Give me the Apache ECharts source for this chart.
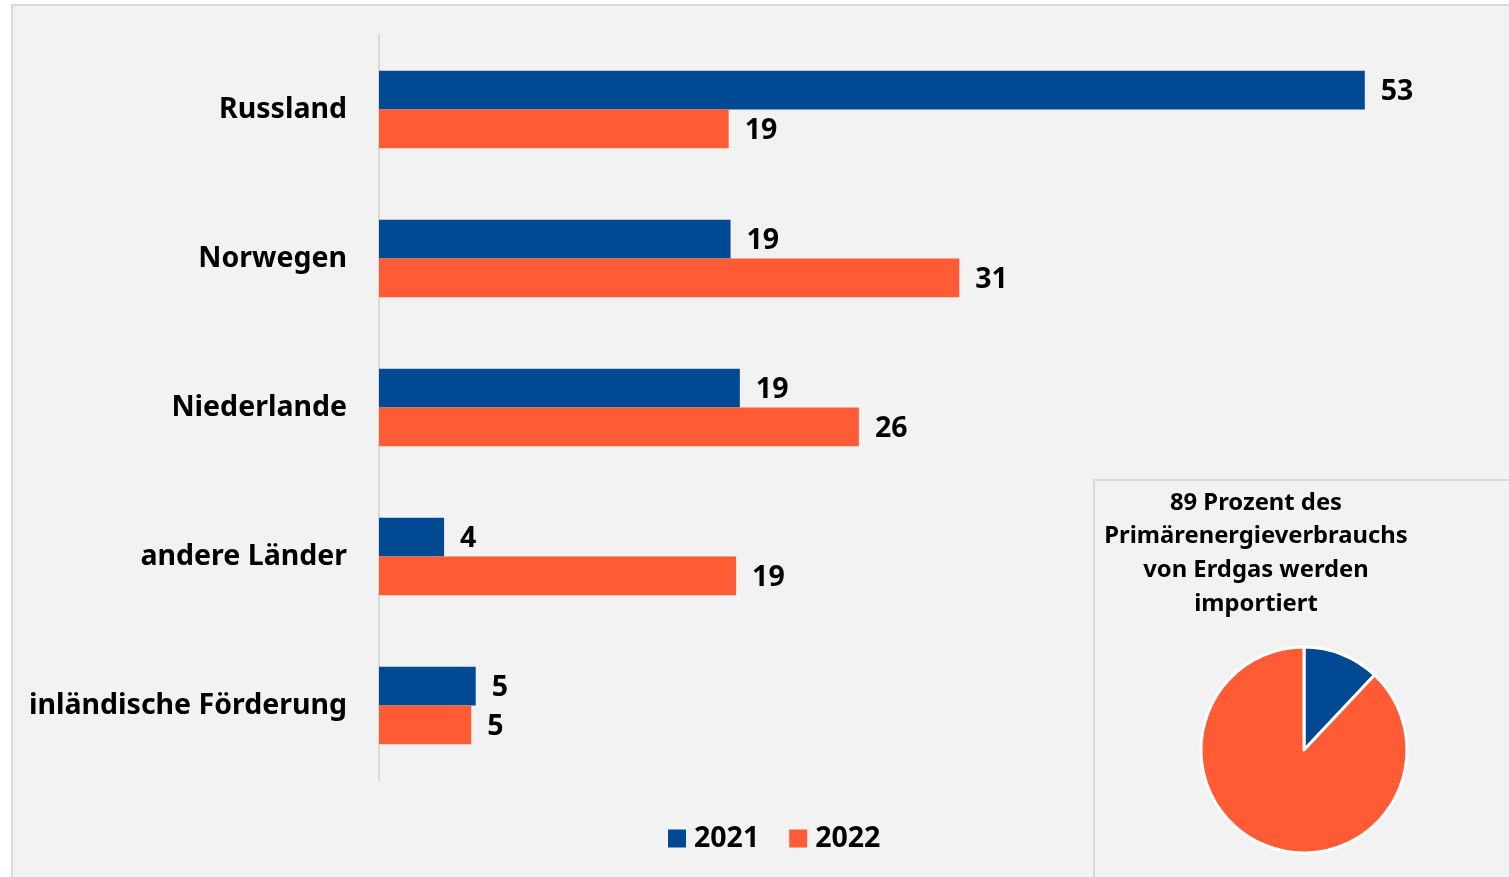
<!DOCTYPE html>
<html><head><meta charset="utf-8">
<script src="https://cdn.jsdelivr.net/npm/echarts@6/dist/echarts.min.js"></script>
<style>html,body{margin:0;padding:0;background:#fff}#c{width:1509px;height:877px}</style>
</head><body><div id="c"></div>
<script>
const categories = ['Russland','Norwegen','Niederlande','andere Länder','inländische Förderung'];
const values2021 = [53, 18.9, 19.4, 3.5, 5.2];
const values2022 = [18.8, 31.2, 25.8, 19.2, 4.96];
const seriesNames = ['2021','2022'];
const pieNames = ['inländische Förderung','Importe'];
const pieValues = [12, 88];
const pieTitle = '89 Prozent des\nPrimärenergieverbrauchs\nvon Erdgas werden\nimportiert';
const BLUE = '#014a93', ORANGE = '#ff5c35';
const FONT = 'Noto Sans';

const chart = echarts.init(document.getElementById('c'));
const lbl = {show:true, position:'right', distance:16, offset:[0,2], fontFamily:FONT, fontWeight:'bold', fontSize:28.5, color:'#000',
  formatter: p => Math.round(p.value)};
chart.setOption({
  backgroundColor:'#ffffff',
  animation:false,
  graphic:[
    {type:'rect', z:-10, shape:{x:12,y:5,width:1520,height:900}, style:{fill:'#f2f2f2', stroke:'#d9d9d9', lineWidth:2}},
    {type:'rect', z:-9, shape:{x:1094,y:480,width:440,height:420}, style:{fill:'#f2f2f2', stroke:'#d9d9d9', lineWidth:2}},
    {type:'text', x:1256, y:486, style:{text:pieTitle, textAlign:'center', fontFamily:FONT, fontWeight:'bold', fontSize:23.8, lineHeight:33.7, fill:'#000'}}
  ],
  legend:{data:seriesNames, left:663, top:819, itemWidth:18, itemHeight:18, itemGap:30, icon:'rect',
    textStyle:{fontFamily:FONT, fontWeight:'bold', fontSize:28.5, color:'#000', padding:[0,0,0,3]}},
  grid:{left:379, right:14, top:35, bottom:97, containLabel:false},
  xAxis:{type:'value', min:0, max:60, show:false},
  yAxis:{type:'category', data:categories, inverse:true,
    axisLine:{show:true, lineStyle:{color:'#d9d9d9', width:2}}, axisTick:{show:false},
    axisLabel:{fontFamily:FONT, fontWeight:'bold', fontSize:28.5, color:'#000', margin:32}},
  series:[
    {name:seriesNames[0], type:'bar', data:values2021, barGap:'0%', barCategoryGap:'48%', itemStyle:{color:BLUE}, label:lbl},
    {name:seriesNames[1], type:'bar', data:values2022, barGap:'0%', barCategoryGap:'48%', itemStyle:{color:ORANGE}, label:lbl},
    {type:'pie', center:[1304,750], radius:103, startAngle:90, clockwise:true, label:{show:false}, labelLine:{show:false},
      itemStyle:{borderColor:'#fff', borderWidth:3},
      data:[{name:pieNames[0], value:pieValues[0], itemStyle:{color:BLUE}},{name:pieNames[1], value:pieValues[1], itemStyle:{color:ORANGE}}]}
  ]
});
</script></body></html>
